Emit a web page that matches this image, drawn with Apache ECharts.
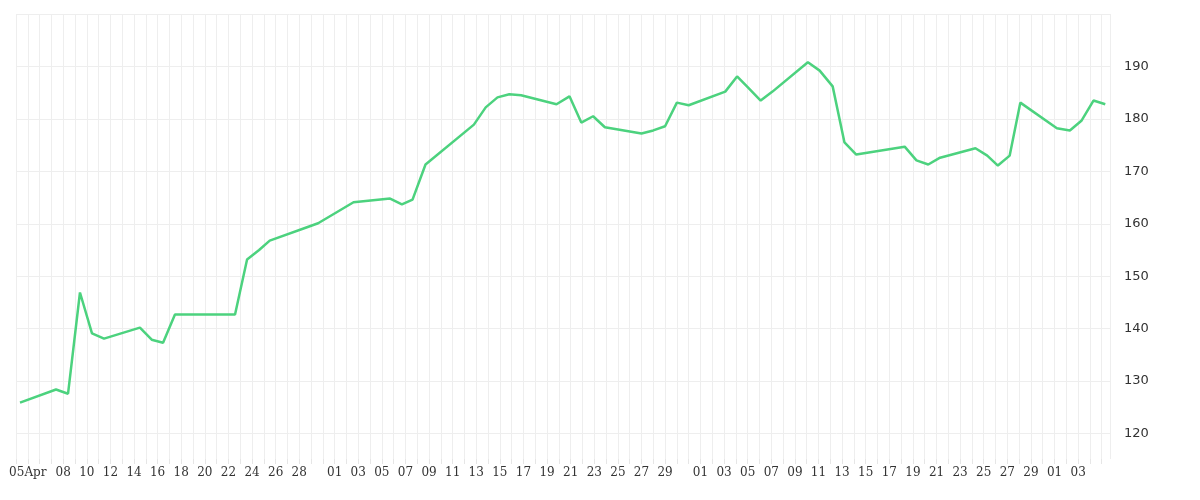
<!DOCTYPE html>
<html><head><meta charset="utf-8">
<script src="https://cdn.jsdelivr.net/npm/echarts@6/dist/echarts.min.js"></script>
<style>html,body{margin:0;padding:0;background:#fff}#c{width:1200px;height:500px}</style>
</head><body><div id="c"></div>
<script>
// x values: days since 2021-04-04 00:00
const baseDate = [2021, 3, 4];
const dayOffsets = [0.34,3.39,4.41,5.42,6.44,7.46,10.5,11.5,12.46,13.47,18.56,19.58,20.6,21.5,24.6,25.6,28.6,31.7,32.7,33.6,34.7,38.8,39.8,40.8,41.8,42.8,45.8,46.9,47.9,48.9,49.9,53,54,55,56,57,60.1,61.1,62.1,63.1,64.1,67.1,68.1,69.2,70.2,71.2,75.3,76.3,77.3,78.3,81.3,82.3,83.2,84.2,85.1,88.2,89.3,90.3,91.3,92.3];
const values = [125.9,128.4,127.6,146.9,139.1,138.1,140.2,137.9,137.3,142.7,142.7,153.2,155,156.8,159.3,160.1,164.1,164.8,163.7,164.6,171.3,178.9,182.2,184.1,184.7,184.5,182.8,184.3,179.3,180.5,178.4,177.2,177.8,178.6,183.1,182.6,185.2,188.1,185.8,183.5,185.2,190.8,189.2,186.2,175.5,173.2,174.7,172.1,171.3,172.6,174.4,173.0,171.1,173.0,183.1,178.2,177.8,179.7,183.5,182.8];
const tickDates = ['04-05','04-08','04-10','04-12','04-14','04-16','04-18','04-20','04-22','04-24','04-26','04-28',
 '05-01','05-03','05-05','05-07','05-09','05-11','05-13','05-15','05-17','05-19','05-21','05-23','05-25','05-27','05-29',
 '06-01','06-03','06-05','06-07','06-09','06-11','06-13','06-15','06-17','06-19','06-21','06-23','06-25','06-27','06-29',
 '07-01','07-03'];
const tickSet = new Set(tickDates);
function fmt(v){
  const d = new Date(baseDate[0], baseDate[1], baseDate[2] + Math.round(v));
  const mm = String(d.getMonth()+1).padStart(2,'0'), dd = String(d.getDate()).padStart(2,'0');
  const key = mm+'-'+dd;
  if (!tickSet.has(key)) return '';
  return key === tickDates[0] ? dd+'Apr' : dd;
}
const chart = echarts.init(document.getElementById('c'));
chart.setOption({
  animation:false,
  grid:[{left:16,right:90,top:14,bottom:14},{left:16,right:90,top:14,bottom:41}],
  graphic:[{type:'rect',z:100,shape:{x:0,y:480,width:1200,height:12},style:{fill:'#fff'}}],
  xAxis:[
    {gridIndex:0,type:'value',min:0,max:92.7,show:false,splitLine:{show:false}},
    {gridIndex:1,type:'value',min:0,max:92.7,interval:1,
    axisLine:{show:false},
    axisTick:{show:true,lineStyle:{color:'#e6e6e6'},length:5},
    axisLabel:{formatter:fmt,color:'#333',fontFamily:'DejaVu Serif',fontSize:12,margin:8,showMaxLabel:false},
    splitLine:{show:true,lineStyle:{color:'#eeeeee'}}}],
  yAxis:[
    {gridIndex:0,type:'value',position:'right',min:110,max:200,interval:10,
    axisLine:{show:false},axisTick:{show:false},
    axisLabel:{color:'#333',fontSize:13,fontFamily:'DejaVu Sans',margin:14,showMinLabel:false,showMaxLabel:false},
    splitLine:{show:true,lineStyle:{color:'#eeeeee'}}},
    {gridIndex:1,type:'value',min:0,max:1,show:false,splitLine:{show:false}}],
  series:[{type:'line',xAxisIndex:0,yAxisIndex:0,data:dayOffsets.map((x,i)=>[x,values[i]]),showSymbol:false,
    lineStyle:{color:'#4cd27e',width:2.5}}]
});
</script></body></html>
